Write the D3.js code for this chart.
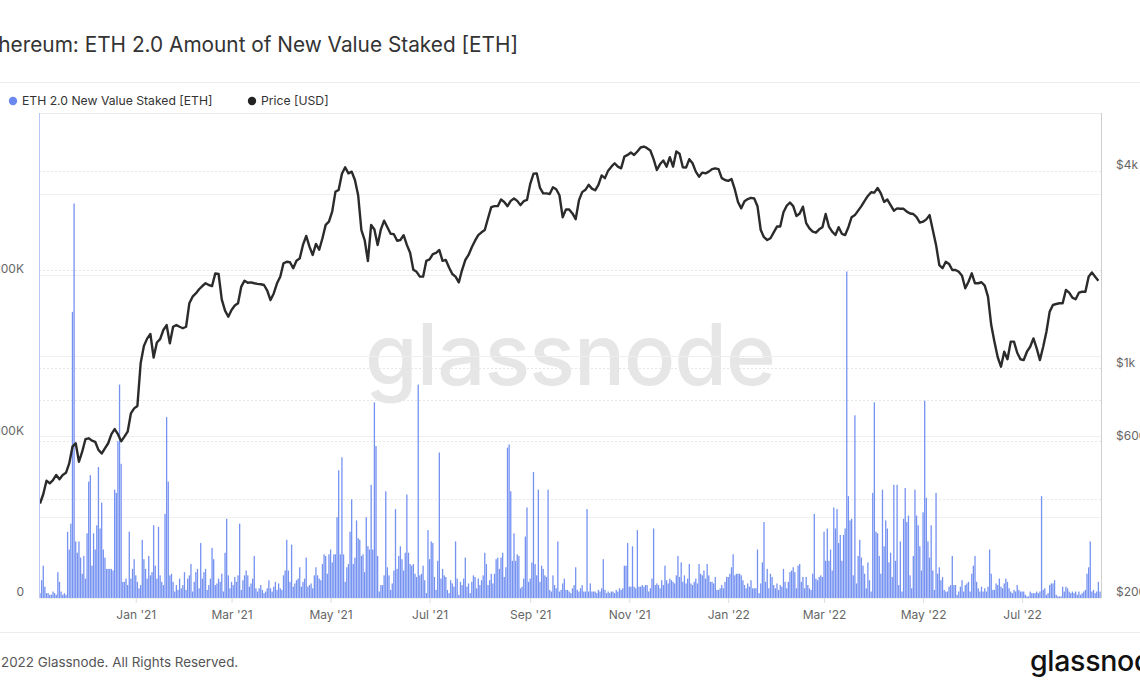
<!DOCTYPE html>
<html>
<head>
<meta charset="utf-8">
<script src="https://cdn.jsdelivr.net/npm/d3@7"></script>
<style>
  html, body { margin: 0; padding: 0; background: #fff; overflow: hidden; }
  svg { display: block; font-family: Inter, "Noto Sans", sans-serif; }
</style>
</head>
<body>
<svg id="chart" width="1140" height="694"></svg>
<script>
// ---------------- DATA ----------------
const titleText = "Ethereum: ETH 2.0 Amount of New Value Staked [ETH]";
const seriesNames = ["ETH 2.0 New Value Staked [ETH]", "Price [USD]"];
const startDate = "2020-11-03";   // first daily bar
const endDate = "2022-08-18";     // last daily bar
const priceStepDays = 2;          // price samples every 2 days from startDate

// daily new value staked, thousands of ETH (one per day from startDate)
const stakedK = [
  3,11,20,7,3,3,2,2,4,3,2,16,10,4,2,3,2,
  41,30,46,177,244,35,28,35,25,15,26,12,40,72,76,20,40,30,45,81,43,59,30,25,18,18,18,18,17,67,65,97,132,83,
  10,10,12,8,41,12,18,24,14,10,6,8,36,24,18,12,26,14,16,45,20,12,44,14,10,8,52,112,72,14,
  15,10,4,8,5,12,6,8,16,5,12,14,21,4,10,16,18,6,34,12,16,18,5,8,12,31,24,8,
  9,12,10,15,4,28,49,14,6,10,
  8,13,10,14,46,5,11,14,17,14,
  7,9,12,26,6,4,6,8,5,3,
  4,6,11,6,4,7,10,5,9,6,
  5,14,17,36,17,10,33,7,9,11,
  12,19,7,10,12,25,7,8,9,6,
  14,19,14,12,11,21,27,26,15,27,
  30,22,27,27,50,79,27,87,27,10,
  19,21,41,61,21,25,48,37,36,26,
  27,16,50,32,30,70,30,121,94,26,
  4,8,8,14,66,19,14,5,9,
  17,55,18,26,32,24,17,28,64,28,
  21,20,21,15,13,132,14,15,20,11,
  3,42,24,35,34,13,5,23,90,12,
  18,14,13,5,3,11,9,7,35,12,
  2,10,8,12,25,7,9,3,10,14,
  13,6,12,8,11,14,28,21,8,11,
  15,9,15,24,25,18,25,28,13,19,
  93,95,66,23,40,23,27,26,6,7,
  12,38,56,10,12,22,78,21,14,67,
  10,20,18,14,13,67,5,4,14,8,
  6,35,4,5,9,12,5,
  5,4,3,6,8,19,5,4,6,8,
  4,4,55,4,9,4,4,4,3,5,
  4,6,24,5,3,4,3,4,4,3,
  5,4,6,5,6,20,20,34,7,7,
  32,7,6,42,7,7,8,7,8,8,
  4,6,12,43,8,9,8,6,11,8,
  20,11,9,12,11,10,9,14,26,13,
  22,10,14,9,12,21,9,8,10,12,
  9,21,15,14,17,12,21,14,10,10,
  9,13,5,5,6,8,6,10,13,13,
  15,19,27,14,15,15,15,14,11,
  8,6,9,7,11,6,6,6,30,3,
  9,22,47,10,18,6,15,13,8,6,
  9,5,8,7,18,10,6,10,16,17,
  19,16,6,20,21,10,13,6,13,8,
  6,5,15,52,12,11,13,14,13,41,
  23,43,23,30,17,56,43,55,34,39,
  23,39,43,202,63,48,49,14,113,9,
  26,36,25,20,15,6,22,11,4,65,
  121,41,40,26,15,67,32,48,43,22,
  28,13,70,23,70,8,35,4,49,68,
  47,51,14,6,26,67,51,45,
  32,17,53,122,62,35,25,45,17,5,
  65,15,19,11,13,5,4,4,7,8,
  26,8,8,2,4,7,11,4,8,9,
  10,4,15,20,26,10,6,4,7,4,
  6,4,7,30,15,5,5,9,8,12,
  7,6,9,12,10,6,4,3,5,4,
  8,5,4,4,4,2,1,1,4,3,
  3,3,4,3,4,63,5,6,2,3,
  8,9,9,11,2,1,1,1,7,4,
  7,6,4,3,4,3,4,2,4,2,
  3,4,5,15,19,35,4,5,3,4,
  10,4
];

// ETH price in USD, sampled every 2 days from startDate
const priceUSD = [
  388,414,455,447,457,474,460,474,481,514,578,592,520,558,609,613,603,598,565,551,
  571,592,631,654,631,600,620,642,730,756,769,1037,1171,1233,1274,1080,1200,1228,1310,1356,
  1193,1340,1356,1340,1326,1340,1580,1655,1693,1743,1783,1818,1796,1783,1949,
  1940,1620,1500,1438,1507,1555,1580,1776,1851,1825,1830,1818,1810,1805,1796,1726,1616,1693,1818,1904,
  2091,2114,2107,2020,2128,2165,2379,2533,2350,2217,2395,2300,2493,2738,2800,3004,3452,3500,3917,4100,
  3930,3977,3751,3370,2641,2462,2125,2738,2650,2379,2654,2820,2694,2572,
  2565,2450,2462,2547,2379,2251,2000,1970,1904,1904,2128,2148,2231,2251,2295,2128,2140,2031,1940,1904,
  1830,1995,2140,2217,2339,2450,2547,2599,2641,2868,3100,3122,3122,3270,3216,3122,3240,3294,3240,3145,
  3233,3260,3650,3917,3930,3550,3415,3415,3400,3565,3516,3370,2889,3053,
  3050,2966,2850,3250,3445,3500,3627,3530,3490,3627,3873,3800,4005,4119,4218,4119,4071,4418,4472,4546,
  4472,4579,4710,4743,4688,4613,4340,4023,4194,4302,4119,4400,4119,4579,4506,4100,4090,4340,4218,3977,
  3839,3950,3930,3977,4047,4071,4047,3800,3751,3727,3775,3516,3216,3074,
  3233,3282,3310,3294,3122,2641,2511,2462,2493,2599,2706,2706,2990,3131,3203,3122,2914,2966,3110,2772,
  2673,2612,2592,2654,2694,2955,2706,2612,2550,2694,2572,2550,2694,2889,2932,3025,3122,3240,3354,3442,
  3433,3548,3415,3216,3270,3145,3025,3074,3065,3065,3004,2966,2955,2889,
  2781,2800,2846,2932,2641,2379,2066,2020,2114,2082,1995,1995,1970,1917,1755,1838,1949,1818,1818,1831,
  1788,1655,1356,1204,1082,1013,1125,1067,1207,1207,1117,1067,1061,1125,1165,1235,1152,1061,1165,1294,
  1490,1561,1572,1580,1580,1734,1702,1643,1625,1702,1713,1713,1904,1962,1904,1851
];

const leftTicks = [0, 100000, 200000];
const leftTickLabels = ["0", "100K", "200K"];
const leftGrid = [0, 50000, 100000, 150000, 200000, 250000];
const rightTicks = [200, 600, 1000, 4000];
const rightTickLabels = ["$200", "$600", "$1k", "$4k"];
const rightGrid = [400, 600, 800, 1000, 2000, 4000];
const footerText = "© 2022 Glassnode. All Rights Reserved.";
const logoText = "glassnode";

// ---------------- LAYOUT ----------------
const svg = d3.select("#chart");
const W = 1140, H = 694;
const plot = { left: 39, right: 1101, top: 113, bottom: 598 };
const DAY = 86400000;
const t0 = new Date(startDate + "T00:00:00Z");
const t1 = new Date(endDate + "T00:00:00Z");

const x = d3.scaleUtc().domain([t0, t1]).range([plot.left + 1, plot.right - 1]);
const yL = d3.scaleLinear().domain([0, 300000]).range([plot.bottom, plot.top]);
const yR = d3.scaleLog().domain([200, 6000]).range([plot.bottom, plot.top]);

const barColor = "#7592f1";
const lineColor = "#2b2b2b";

// separators
svg.append("line").attr("x1", 0).attr("x2", W).attr("y1", 82.5).attr("y2", 82.5)
  .attr("stroke", "#ececec").attr("stroke-width", 1);
svg.append("line").attr("x1", 0).attr("x2", W).attr("y1", 632.5).attr("y2", 632.5)
  .attr("stroke", "#ececec").attr("stroke-width", 1);

// title
svg.append("text").attr("x", -21).attr("y", 52).attr("font-size", 20.8)
  .attr("fill", "#333").text(titleText);

// legend
const leg = svg.append("g");
leg.append("circle").attr("cx", 13).attr("cy", 101).attr("r", 4.2).attr("fill", "#6a88f0");
leg.append("text").attr("x", 22).attr("y", 101).attr("dy", "0.35em").attr("font-size", 12.2)
  .attr("fill", "#333").text(seriesNames[0]);
leg.append("circle").attr("cx", 252).attr("cy", 101).attr("r", 4.2).attr("fill", "#222");
leg.append("text").attr("x", 261).attr("y", 101).attr("dy", "0.35em").attr("font-size", 12.2)
  .attr("fill", "#333").text(seriesNames[1]);

// watermark
svg.append("text").attr("x", 570).attr("y", 385).attr("text-anchor", "middle")
  .attr("font-size", 85).attr("font-weight", 500).attr("fill", "#e6e6e6")
  .attr("letter-spacing", -1).text(logoText);

// plot top border
svg.append("line").attr("x1", plot.left).attr("x2", plot.right).attr("y1", plot.top + 0.5).attr("y2", plot.top + 0.5)
  .attr("stroke", "#ebebeb");

// grids
const gridG = svg.append("g");
gridG.selectAll(".gl").data(leftGrid).join("line")
  .attr("x1", plot.left).attr("x2", plot.right)
  .attr("y1", d => Math.round(yL(d)) + 0.5).attr("y2", d => Math.round(yL(d)) + 0.5)
  .attr("stroke", "#efefef");
gridG.selectAll(".gr").data(rightGrid).join("line")
  .attr("x1", plot.left).attr("x2", plot.right)
  .attr("y1", d => Math.round(yR(d)) + 0.5).attr("y2", d => Math.round(yR(d)) + 0.5)
  .attr("stroke", "#e6e6e6").attr("stroke-dasharray", "2,2");

// bars
const bars = stakedK.map((v, i) => ({ date: new Date(t0.getTime() + i * DAY), v: v * 1000 }));
svg.append("g").selectAll("rect").data(bars).join("rect")
  .attr("x", d => x(d.date) - 0.65)
  .attr("width", 1.3)
  .attr("y", d => yL(d.v))
  .attr("height", d => plot.bottom - yL(d.v))
  .attr("fill", barColor);

// price line
const pts = priceUSD.map((p, i) => ({ date: new Date(t0.getTime() + i * priceStepDays * DAY), p }));
svg.append("path").datum(pts)
  .attr("d", d3.line().x(d => x(d.date)).y(d => yR(d.p)).curve(d3.curveLinear))
  .attr("fill", "none").attr("stroke", lineColor).attr("stroke-width", 2.4)
  .attr("stroke-linejoin", "round");

// axis lines
svg.append("line").attr("x1", plot.left + 0.5).attr("x2", plot.left + 0.5)
  .attr("y1", plot.top).attr("y2", plot.bottom).attr("stroke", "#b9c6f6");
svg.append("line").attr("x1", plot.right + 0.5).attr("x2", plot.right + 0.5)
  .attr("y1", plot.top).attr("y2", plot.bottom).attr("stroke", "#cfcfcf");

// left axis labels
const leftAxis = d3.axisLeft(yL).tickValues(leftTicks)
  .tickFormat((d, i) => leftTickLabels[i]).tickSize(0).tickPadding(0);
const gL = svg.append("g").attr("transform", `translate(24,-6)`).call(leftAxis);
gL.select(".domain").remove();
gL.selectAll("text").attr("font-size", 12).attr("fill", "#666").attr("font-family", "Inter, sans-serif");

// right axis labels
const rightAxis = d3.axisRight(yR).tickValues(rightTicks)
  .tickFormat((d, i) => rightTickLabels[i]).tickSize(0).tickPadding(0);
const gR = svg.append("g").attr("transform", `translate(1116,-6)`).call(rightAxis);
gR.select(".domain").remove();
gR.selectAll("text").attr("font-size", 12).attr("fill", "#666").attr("font-family", "Inter, sans-serif");

// x axis
const xAxis = d3.axisBottom(x).ticks(d3.utcMonth.every(2))
  .tickFormat(d3.utcFormat("%b '%y")).tickSize(5).tickPadding(7);
const gX = svg.append("g").attr("transform", `translate(0,${plot.bottom})`).call(xAxis);
gX.select(".domain").remove();
gX.selectAll("line").attr("stroke", "#ddd");
gX.selectAll("text").attr("font-size", 12).attr("fill", "#666").attr("font-family", "Inter, sans-serif");

// footer
svg.append("text").attr("x", -15).attr("y", 667).attr("font-size", 13.4)
  .attr("fill", "#555").text(footerText);
svg.append("text").attr("x", 1030).attr("y", 671).attr("font-size", 28.5)
  .attr("font-weight", 500).attr("fill", "#111").attr("letter-spacing", -0.3).text(logoText);
</script>
</body>
</html>
